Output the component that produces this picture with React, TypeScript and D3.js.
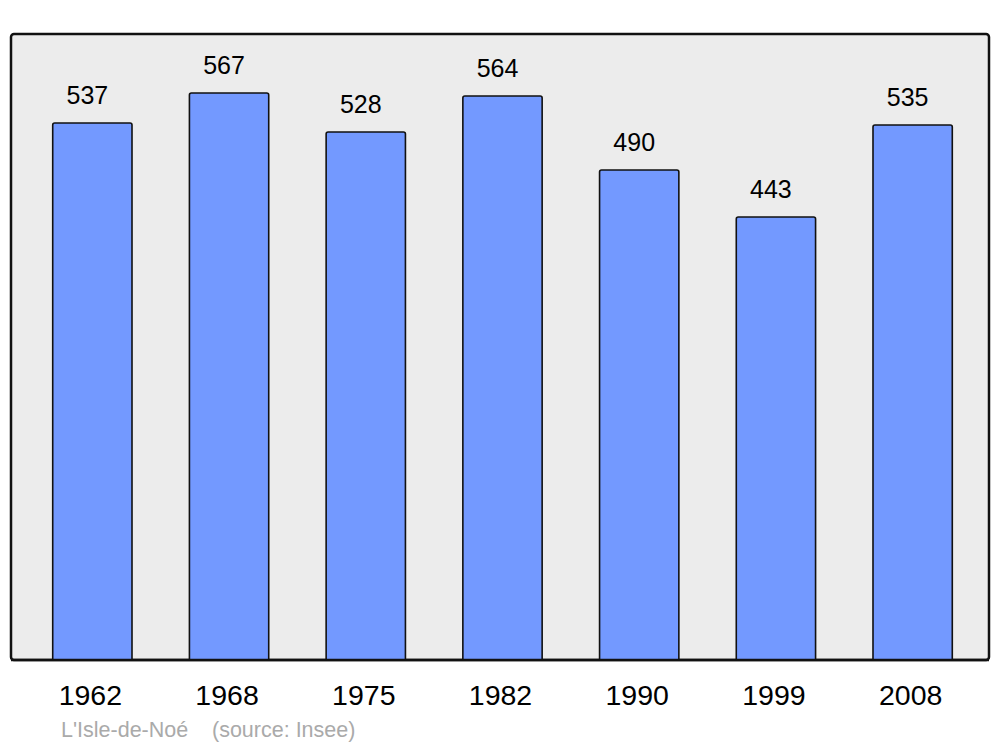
import React from "react";
import * as d3 from "d3";

const years = ["1962", "1968", "1975", "1982", "1990", "1999", "2008"];
const population = [537, 567, 528, 564, 490, 443, 535];
const commune = "L'Isle-de-Noé";
const sourceText = "(source: Insee)";

const W = 1000;
const H = 747;
const panel = { x0: 11, y0: 34, x1: 989, y1: 660 };

export default function App() {
  const x = d3
    .scaleBand<string>()
    .domain(years)
    .range([24, 981])
    .paddingInner(0.42)
    .paddingOuter(0.21);
  const y = d3.scaleLinear().domain([0, 626]).range([panel.y1, panel.y0]);
  const font = "'Liberation Sans', Arial, sans-serif";

  return (
    <svg
      width={W}
      height={H}
      style={{ position: "absolute", left: 0, top: 0, background: "#fff" }}
    >
      <rect
        x={panel.x0}
        y={panel.y0}
        width={panel.x1 - panel.x0}
        height={panel.y1 - panel.y0}
        rx={3}
        fill="#ececec"
        stroke="#111"
        strokeWidth={2.5}
      />
      {years.map((yr, i) => {
        const bx = x(yr)!;
        const by = y(population[i]);
        const bw = x.bandwidth();
        return (
          <g key={yr}>
            <path
              d={`M${bx},${panel.y1} V${by + 2} Q${bx},${by} ${bx + 2},${by} H${bx + bw - 2} Q${bx + bw},${by} ${bx + bw},${by + 2} V${panel.y1}`}
              fill="#7399ff"
              stroke="#111"
              strokeWidth={1.6}
            />
            <text
              x={bx + bw / 2 - 5}
              y={by - 19}
              textAnchor="middle"
              fontFamily={font}
              fontSize={25}
              fill="#000"
            >
              {population[i]}
            </text>
            <text
              x={bx + bw / 2 - 2}
              y={705}
              textAnchor="middle"
              fontFamily={font}
              fontSize={28.5}
              fill="#000"
            >
              {yr}
            </text>
          </g>
        );
      })}
      <line
        x1={panel.x0}
        x2={panel.x1}
        y1={panel.y1}
        y2={panel.y1}
        stroke="#111"
        strokeWidth={2.5}
      />
      <text x={61} y={737} fontFamily={font} fontSize={21.5} fill="#aaaaaa">
        {commune}
      </text>
      <text x={212} y={737} fontFamily={font} fontSize={21.5} fill="#aaaaaa">
        {sourceText}
      </text>
    </svg>
  );
}
